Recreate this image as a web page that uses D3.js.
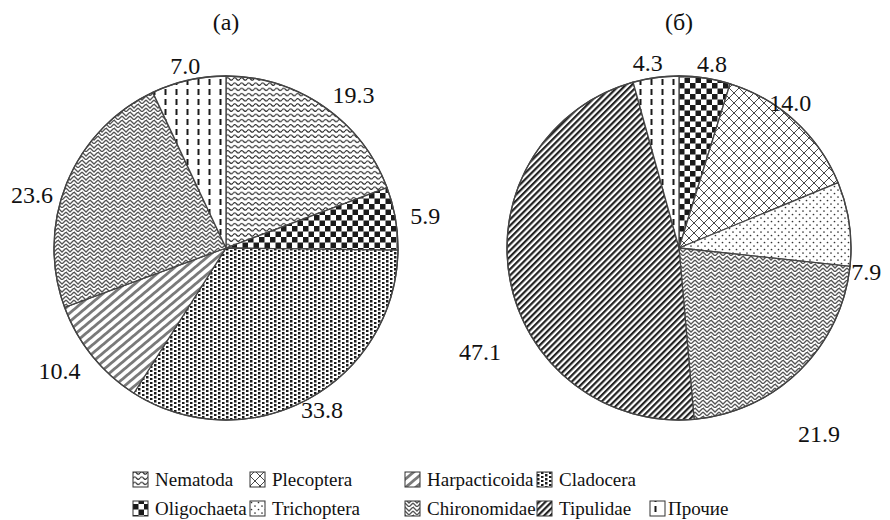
<!DOCTYPE html>
<html><head><meta charset="utf-8">
<script src="https://cdn.jsdelivr.net/npm/d3@7"></script>
<style>body{margin:0;background:#fff} text{font-family:"Liberation Serif","Times New Roman",serif;}</style>
</head><body><svg id="chart" width="890" height="520"></svg>
<script>
// ---- data ----
const panelTitles = ["(а)", "(б)"];
const categoriesA = ["Nematoda", "Oligochaeta", "Cladocera", "Harpacticoida", "Chironomidae", "Прочие"];
const valuesA = [19.3, 5.9, 33.8, 10.4, 23.6, 7.0];
const categoriesB = ["Oligochaeta", "Plecoptera", "Trichoptera", "Chironomidae", "Tipulidae", "Прочие"];
const valuesB = [4.8, 14.0, 7.9, 21.9, 47.1, 4.3];
const legendRow1 = ["Nematoda", "Plecoptera", "Harpacticoida", "Cladocera"];
const legendRow2 = ["Oligochaeta", "Trichoptera", "Chironomidae", "Tipulidae", "Прочие"];

// ---- layout ----
const R = 172;
const centers = [[226, 248], [679, 248]];
const labelNudge = {
  "0-Cladocera": [-14, -3], "0-Harpacticoida": [0, 5], "0-Chironomidae": [0, 18],
  "1-Oligochaeta": [5, 0], "1-Прочие": [-6, 0], "1-Plecoptera": [-36, -8], "1-Trichoptera": [-13, 50],
  "1-Chironomidae": [-12, 52], "1-Tipulidae": [6, 70]
};

const svg = d3.select("#chart");
const defs = svg.append("defs");
const ink = "#1a1a1a";

function pat(id, w, h, rot) {
  const p = defs.append("pattern").attr("id", id).attr("patternUnits", "userSpaceOnUse")
    .attr("width", w).attr("height", h);
  if (rot) p.attr("patternTransform", `rotate(${rot})`);
  p.append("rect").attr("width", w).attr("height", h).attr("fill", "#fff");
  return p;
}
// Nematoda: wavy lines
{ const p = pat("p-Nematoda", 7, 5.2);
  p.append("path").attr("d", "M0,2.6 Q1.75,0.3 3.5,2.6 T7,2.6").attr("fill", "none").attr("stroke", "#2a2a2a").attr("stroke-width", 1.15); }
// Oligochaeta: checkerboard
{ const p = pat("p-Oligochaeta", 11, 11);
  p.append("rect").attr("x", 0).attr("y", 0).attr("width", 5.5).attr("height", 5.5).attr("fill", ink);
  p.append("rect").attr("x", 5.5).attr("y", 5.5).attr("width", 5.5).attr("height", 5.5).attr("fill", ink); }
// Cladocera: dense dots
{ const p = pat("p-Cladocera", 8, 4);
  p.append("rect").attr("x", 0).attr("y", 0).attr("width", 2.5).attr("height", 2.5).attr("fill", ink);
  p.append("rect").attr("x", 4).attr("y", 2).attr("width", 2.5).attr("height", 2.5).attr("fill", ink); }
// Harpacticoida: gray diagonal stripes
{ const p = pat("p-Harpacticoida", 6.5, 10, 50);
  p.append("rect").attr("x", 0).attr("width", 2.8).attr("height", 10).attr("fill", "#7a7a7a"); }
// Chironomidae: herringbone-like zigzag
{ const p = pat("p-Chironomidae", 8, 8);
  p.append("path").attr("d", "M0,0 L4,4 L8,0 M0,4 L4,8 L8,4 M-1,7 L1,9 M7,-1 L9,1")
    .attr("fill", "none").attr("stroke", "#555").attr("stroke-width", 1.3); }
// Прочие: vertical dashes
{ const p = pat("p-Прочие", 11, 10);
  p.append("rect").attr("x", 4.5).attr("y", 1).attr("width", 2).attr("height", 6).attr("fill", ink); }
// Plecoptera: cross-hatch
{ const p = pat("p-Plecoptera", 10, 10);
  p.append("path").attr("d", "M0,0 L10,10 M10,0 L0,10").attr("stroke", "#333").attr("stroke-width", 0.9); }
// Trichoptera: sparse dots
{ const p = pat("p-Trichoptera", 7, 7);
  p.append("circle").attr("cx", 1.5).attr("cy", 1.5).attr("r", 0.85).attr("fill", "#333");
  p.append("circle").attr("cx", 5).attr("cy", 5).attr("r", 0.85).attr("fill", "#333"); }
// Tipulidae: dense dark diagonal stripes
{ const p = pat("p-Tipulidae", 4.4, 10, 45);
  p.append("rect").attr("x", 0).attr("width", 2.2).attr("height", 10).attr("fill", "#222"); }

const fmt = d3.format(".1f");
const pie = d3.pie().sort(null).value(d => d.v);
const arc = d3.arc().innerRadius(0).outerRadius(R);
const labelArc = d3.arc().innerRadius(R + 15).outerRadius(R + 15);

[[categoriesA, valuesA], [categoriesB, valuesB]].forEach(([cats, vals], i) => {
  const data = cats.map((c, k) => ({c, v: vals[k]}));
  const g = svg.append("g").attr("transform", `translate(${centers[i][0]},${centers[i][1]})`);
  const arcs = pie(data);
  g.selectAll("path.slice").data(arcs).join("path").attr("class", "slice")
    .attr("d", arc).attr("fill", d => `url(#p-${d.data.c})`)
    .attr("stroke", "#444").attr("stroke-width", 1.3).attr("stroke-linejoin", "round");
  g.append("circle").attr("r", R).attr("fill", "none").attr("stroke", "#444").attr("stroke-width", 1.3);
  g.selectAll("text.lbl").data(arcs).join("text").attr("class", "lbl")
    .each(function(d) {
      const [x, y] = labelArc.centroid(d);
      const nud = labelNudge[`${i}-${d.data.c}`] || [0, 0];
      const s = x / (R + 15);
      const anchor = s > 0.3 ? "start" : (s < -0.3 ? "end" : "middle");
      d3.select(this).attr("x", x + nud[0]).attr("y", y + nud[1]).attr("dy", "0.35em")
        .attr("text-anchor", anchor);
    })
    .attr("font-size", 24).attr("fill", "#111")
    .text(d => fmt(d.data.v));
  svg.append("text").attr("x", centers[i][0]).attr("y", 30).attr("text-anchor", "middle")
    .attr("font-size", 24).attr("fill", "#111").text(panelTitles[i]);
});

// legend
const colX = [133, 250, 405, 537, 650];
const rowY = [486, 515];
[legendRow1, legendRow2].forEach((row, ri) => {
  row.forEach((name, ci) => {
    const g = svg.append("g").attr("transform", `translate(${colX[ci]},${rowY[ri]})`);
    g.append("rect").attr("x", 0).attr("y", -14).attr("width", 15).attr("height", 15)
      .attr("fill", `url(#p-${name})`).attr("stroke", "#333").attr("stroke-width", 1);
    g.append("text").attr("x", ci === 4 ? 18 : 22).attr("y", 0).attr("font-size", 19)
      .attr("fill", "#111").text(name);
  });
});
</script></body></html>
